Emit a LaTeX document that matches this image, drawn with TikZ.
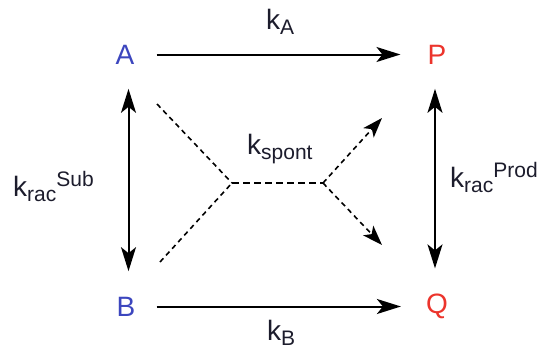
\documentclass[tikz,border=0pt]{standalone}
\usepackage{fontspec}
\setmainfont{Liberation Sans}
\usetikzlibrary{arrows.meta}
\definecolor{sblue}{RGB}{60,70,190}
\definecolor{pred}{RGB}{236,52,44}
\definecolor{lbl}{RGB}{28,28,44}
\newcommand{\mysub}[1]{\raisebox{-5pt}{\fontsize{21}{21}\selectfont #1}}
\newcommand{\mysup}[1]{\raisebox{10pt}{\fontsize{21}{21}\selectfont #1}}
\tikzset{
  species/.style={inner sep=0pt, font=\fontsize{28}{28}\selectfont},
  klabel/.style={inner sep=0pt, anchor=base west, text=lbl, font=\fontsize{28}{28}\selectfont},
  bigtip/.tip={Stealth[length=24pt,width=15pt,inset=6pt]},
  smalltip/.tip={Stealth[length=20pt,width=14pt,inset=5pt]},
  solidarrow/.style={line width=2pt, -bigtip},
  solidboth/.style={line width=2pt, bigtip-bigtip},
  dashthin/.style={line width=1.6pt, dash pattern=on 5pt off 4pt},
  dashthick/.style={line width=2.6pt, dash pattern=on 7pt off 4pt},
  dasharrow/.style={dashthin, -smalltip}
}
\begin{document}
\begin{tikzpicture}[x=1pt,y=-1pt]
\useasboundingbox (0,0) rectangle (542,348);
\node[species, text=sblue] (A) at (125,54.5) {A};
\node[species, text=pred] (P) at (437,54.5) {P};
\node[species, text=sblue] (B) at (126,306.5) {B};
\node[species, text=pred] (Q) at (437,306.5) {Q};
\draw[solidarrow, shorten <=22pt, shorten >=27pt] (A) -- (P);
\draw[solidarrow, shorten <=21pt, shorten >=25pt] (B) -- (Q);
\draw[solidboth, shorten <=24.5pt, shorten >=25.5pt] ([xshift=3.5pt]A.south) -- ([xshift=2.5pt]B.north);
\draw[solidboth, shorten <=24.5pt, shorten >=25.5pt] ([xshift=-2pt]P.south) -- ([xshift=-2pt]Q.north);
\coordinate (J1) at (232,183);
\coordinate (J2) at (323,183);
\coordinate (UL) at (157,104);
\coordinate (LL) at (160,262);
\coordinate (UR) at (382,118);
\coordinate (LR) at (382,245);
\draw[dashthin] (UL) -- (J1);
\draw[dashthin] (LL) -- (J1);
\draw[dashthick] (J1) -- (J2);
\draw[dasharrow] (J2) -- (UR);
\draw[dasharrow] (J2) -- (LR);
\node[klabel] (kA) at (266,30) {k\mysub{A}};
\node[klabel] (kB) at (267,340) {k\mysub{B}};
\node[klabel] (ksp) at (247,154) {k\mysub{spont}};
\node[klabel] (ksub) at (13,196) {k\mysub{rac}\mysup{Sub}};
\node[klabel] (kprod) at (450,187) {k\mysub{rac}\mysup{Prod}};
\end{tikzpicture}
\end{document}
